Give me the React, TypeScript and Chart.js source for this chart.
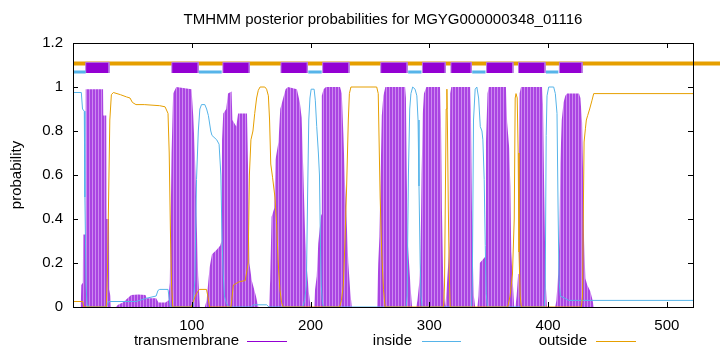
import React, { useEffect, useRef } from "react";
import { Chart, registerables } from "chart.js";

Chart.register(...registerables);

// ---------- data ----------
const titleText = "TMHMM posterior probabilities for MGYG000000348_01116";
const yAxisTitle = "probability";
const legendLabels = ["transmembrane", "inside", "outside"];

const xMin = 0;
const xMax = 522;
const xTicks = [100, 200, 300, 400, 500];
const xTickLabels = ["100", "200", "300", "400", "500"];
const yTicks = [0, 0.2, 0.4, 0.6, 0.8, 1, 1.2];
const yTickLabels = ["0", "0.2", "0.4", "0.6", "0.8", "1", "1.2"];

// posterior probability of transmembrane (residue, value)
const tmProfile: [number, number][] = [
  [0, 0], [6.5, 0], [7, 0.1], [8.3, 0.11], [8.5, 0.33], [10.5, 0.33], [10.7, 0.99], [25.3, 0.99],
  [25.5, 0.87], [28, 0.87], [28.2, 0.4], [30.3, 0.4], [30.5, 0.08], [31.5, 0.05], [32, 0],
  [36, 0], [38, 0.01], [42, 0.02], [46, 0.04], [49, 0.055], [55, 0.057], [61, 0.055], [62, 0.04],
  [70, 0.04], [72, 0.02], [78, 0.02], [80, 0.03],
  [80.5, 0.05], [81.5, 0.11], [83, 0.7], [84.3, 0.97], [87, 1.0], [99.8, 0.99], [101.2, 0.87],
  [102.6, 0.7], [104, 0.41], [105.4, 0.14], [106.8, 0],
  [111, 0], [112.5, 0.03], [115, 0.18], [117, 0.24], [121, 0.26], [124, 0.28], [125, 0.3],
  [125.5, 0.76], [126.5, 0.88], [129, 0.9], [130.5, 0.97], [133.5, 0.98], [134.2, 0.85],
  [137.5, 0.82], [139, 0.88], [146.5, 0.88], [147.5, 0.6], [148.5, 0.2], [150.5, 0.12],
  [154, 0.05], [156, 0],
  [165, 0], [166, 0.12], [167.2, 0.41], [169.5, 0.45], [170.5, 0.67], [173, 0.75], [174.5, 0.9],
  [177, 0.95], [179, 0.99], [181, 1.0], [188.5, 0.99], [191, 0.93], [192.5, 0.86], [194, 0.6],
  [195.3, 0.35], [196.8, 0.18], [198.5, 0.07], [200, 0],
  [203, 0], [203.8, 0.08], [205.2, 0.14], [206.5, 0.29], [208, 0.37], [209, 0.42], [209.5, 0.96],
  [211, 0.99], [213, 1.0], [224.8, 1.0], [226.3, 0.97], [227.6, 0.79], [229, 0.56], [230.5, 0.38],
  [231.8, 0.2], [233.3, 0.08], [234.7, 0],
  [256, 0], [257, 0.2], [258, 0.32], [259, 0.6], [260, 0.87], [261.3, 0.96], [263, 1.0],
  [279.6, 1.0], [280.3, 0.95], [281, 0.6], [281.8, 0.3], [283.5, 0.15], [285, 0.03], [285.5, 0],
  [289, 0], [290, 0.03], [291.5, 0.11], [292.5, 0.2], [293.5, 0.6], [294.5, 0.88], [295.5, 0.97],
  [297.5, 1.0], [309, 1.0], [309.8, 0.85], [310.6, 0.45], [311.6, 0.15], [312.8, 0.03], [313.5, 0],
  [314, 0], [314.8, 0.1], [316.2, 0.22], [317, 0.3], [317.6, 0.97], [318.5, 1.0], [334.4, 1.0],
  [335, 0.9], [335.9, 0.44], [336.7, 0.2], [337.5, 0.05], [338.6, 0],
  [340.5, 0], [341.4, 0.05], [342.5, 0.2], [347.2, 0.23], [347.7, 0.75], [349, 0.97], [350, 1.0],
  [364.5, 1.0], [365.5, 0.84], [367.3, 0.72], [368.2, 0.55], [369, 0.25], [370.4, 0.1], [371.5, 0],
  [372.5, 0], [373.5, 0.05], [374.8, 0.15], [375.5, 0.6], [376, 0.97], [377.2, 1.0], [394.9, 1.0],
  [395.7, 0.92], [396.8, 0.5], [397.9, 0.12], [399, 0],
  [406, 0], [407, 0.03], [408.5, 0.15], [409.5, 0.3], [410.3, 0.65], [411.5, 0.85], [413, 0.93],
  [414.5, 0.96], [416, 0.97], [426, 0.97], [427.2, 0.95], [428.6, 0.84], [429.5, 0.6], [430.3, 0.3],
  [431.4, 0.13], [433, 0.1], [435.6, 0.07], [437.5, 0.03], [438.4, 0], [522, 0],
];

// posterior probability of inside
const insideProfile: [number, number][] = [
  [0, 0.975], [7, 0.975], [8, 0.9], [9.5, 0.89], [10, 0.5], [11, 0.1], [11.8, 0.01], [12.5, 0],
  [28, 0], [30, 0.025], [53, 0.025], [62, 0.04], [70, 0.05], [71.5, 0.075], [73, 0.08], [80, 0.08],
  [81, 0.04], [82, 0],
  [101, 0], [102.6, 0.12], [104, 0.58], [105.5, 0.8], [106.8, 0.9], [108.2, 0.92], [111, 0.92],
  [112.5, 0.9], [114, 0.87], [116, 0.8], [117, 0.78], [121, 0.76], [123, 0.74], [124.5, 0.6],
  [125.5, 0.3], [126.5, 0.15], [127.5, 0.05], [129, 0.02], [131, 0],
  [150, 0], [152, 0.01], [163, 0.01], [165, 0],
  [193.5, 0], [195, 0.03], [196.5, 0.1], [197.5, 0.5], [198.5, 0.85], [199.5, 0.95], [200.5, 0.99],
  [203, 0.99], [204, 0.94], [205.2, 0.82], [206.6, 0.7], [207.5, 0.6], [208.3, 0.3], [209, 0.1],
  [210, 0.02], [211, 0],
  [280.5, 0], [281.3, 0.05], [282.4, 0.6], [283.5, 0.9], [284.5, 0.97], [286, 1.0], [288, 0.99],
  [289.5, 0.96], [290.5, 0.85], [291.3, 0.55], [292.3, 0.2], [293, 0.05], [294, 0],
  [335.5, 0], [336.2, 0.1], [337.2, 0.85], [338.6, 0.99], [340, 1.0], [341.5, 0.95], [342.9, 0.82],
  [344.3, 0.8], [345.1, 0.76], [346.2, 0.58], [347.1, 0.28], [347.9, 0.06], [349, 0],
  [396.8, 0], [397.6, 0.1], [398.4, 0.78], [399.1, 0.96], [400.5, 1.0], [404.7, 1.0], [406.1, 0.97],
  [407.5, 0.88], [408.4, 0.45], [409.2, 0.12], [410.3, 0.05], [414, 0.04], [417.4, 0.03], [522, 0.03],
];

// posterior probability of outside
const outsideProfile: [number, number][] = [
  [0, 0.025], [8.3, 0.025], [9, 0], [28, 0], [29, 0.15], [30, 0.5], [31, 0.85], [32.3, 0.965],
  [34, 0.975], [40, 0.965], [45, 0.955], [48, 0.95], [50, 0.93], [53, 0.92], [60, 0.92],
  [73, 0.915], [77.5, 0.91], [80, 0.88], [81, 0.7], [82, 0.35], [83, 0.1], [84, 0],
  [99.5, 0], [101, 0.02], [103, 0.05], [105, 0.07], [106.5, 0.08], [112.4, 0.08], [113.5, 0.05],
  [115, 0],
  [133, 0], [134, 0.05], [135, 0.1], [140, 0.115], [145, 0.12], [147.5, 0.2], [148.5, 0.6],
  [149.8, 0.76], [151.5, 0.8], [153, 0.88], [154.6, 0.95], [156, 0.985], [157.5, 1.0], [161.5, 1.0],
  [163, 0.99], [164.5, 0.96], [165.5, 0.85], [166.5, 0.65], [168, 0.59], [170, 0.5], [171.4, 0.38],
  [172.8, 0.2], [174.2, 0.08], [175.6, 0.02], [177, 0],
  [224.5, 0], [226, 0.03], [227.6, 0.1], [229, 0.3], [230.4, 0.55], [231.8, 0.85], [232.7, 0.97],
  [234, 1.0], [255.7, 1.0], [257, 0.97], [257.9, 0.7], [258.6, 0.5], [259.9, 0.25], [261.4, 0.08],
  [262.8, 0],
  [312, 0], [312.8, 0.1], [313.5, 0.5], [314.2, 0.9], [314.8, 0.99], [315.3, 0.8], [316, 0.45],
  [316.8, 0.15], [317.6, 0],
  [366, 0], [368, 0.05], [370, 0.15], [371.5, 0.4], [372.3, 0.95], [373, 0.97], [374, 0.95],
  [374.8, 0.7], [375.5, 0.25], [376.5, 0.05], [377.5, 0],
  [428, 0], [429, 0.05], [429.6, 0.4], [430.3, 0.75], [431.4, 0.81], [432.2, 0.85], [433.3, 0.87],
  [435, 0.9], [437, 0.94], [438.4, 0.97], [522, 0.97],
];

// predicted topology (residue ranges)
const tmSegments: [number, number][] = [
  [10.7, 30.3], [83.2, 105.4], [126.2, 148.4], [175.1, 197.3], [210.2, 232.4], [259.1, 281.3],
  [294.2, 313.4], [318.2, 335.3], [348.2, 370.4], [375.1, 397.4], [409.5, 428.6],
];
const insideSegments: [number, number][] = [
  [0, 10.7], [106, 125.2], [198.1, 209.4], [282.2, 293.4], [336.1, 347.3], [398.2, 408.6],
];
const outsideBarRange: [number, number] = [0, 548];
const tmBoxLevels: [number, number] = [1.0636, 1.112];
const insideBarLevel = 1.068;
const outsideBarLevel = 1.107;

// ---------- styles ----------
const FONT = "'Liberation Sans', Arial, sans-serif";
const PURPLE = "#9400d3";
const BLUE = "#56b4e9";
const ORANGE = "#e69f00";

const pts = (a: [number, number][]) => a.map(([x, y]) => ({ x, y }));

export default function App() {
  const ref = useRef<HTMLCanvasElement | null>(null);

  useEffect(() => {
    const canvas = ref.current;
    if (!canvas) return;

    // striped fill imitating gnuplot impulses
    const pc = document.createElement("canvas");
    pc.width = 3;
    pc.height = 1;
    const pctx = pc.getContext("2d")!;
    pctx.fillStyle = "#aa44e2";
    pctx.fillRect(0, 0, 2, 1);
    pctx.fillStyle = "#cd88f0";
    pctx.fillRect(2, 0, 1, 1);
    const ctx0 = canvas.getContext("2d")!;
    const stripe = ctx0.createPattern(pc, "repeat") || "#b050e0";

    const boxDatasets = tmSegments.map(([s, e]) => ({
      data: [
        { x: s, y: tmBoxLevels[0] },
        { x: s, y: tmBoxLevels[1] },
        { x: e, y: tmBoxLevels[1] },
        { x: e, y: tmBoxLevels[0] },
      ],
      borderColor: "#b877e4",
      borderWidth: 1,
      backgroundColor: PURPLE,
      fill: { value: tmBoxLevels[0] },
      pointRadius: 0,
      order: 10,
    }));

    const insideBarData: { x: number; y: number | null }[] = [];
    insideSegments.forEach(([s, e]) => {
      insideBarData.push({ x: s, y: insideBarLevel }, { x: e, y: insideBarLevel }, { x: e, y: null });
    });

    const framePlugin = {
      id: "frame",
      afterDatasetsDraw(chart: any) {
        const { ctx, chartArea } = chart;
        const { left, right, top, bottom } = chartArea;
        const xs = chart.scales.x;
        const ys = chart.scales.y;
        ctx.save();
        ctx.strokeStyle = "#000";
        ctx.lineWidth = 1;
        ctx.beginPath();
        yTicks.forEach((v) => {
          const py = Math.round(ys.getPixelForValue(v)) + 0.5;
          ctx.moveTo(left, py);
          ctx.lineTo(left + 5, py);
          ctx.moveTo(right, py);
          ctx.lineTo(right - 5, py);
        });
        xTicks.forEach((v) => {
          const px = Math.round(xs.getPixelForValue(v)) + 0.5;
          ctx.moveTo(px, bottom);
          ctx.lineTo(px, bottom - 5);
          ctx.moveTo(px, top);
          ctx.lineTo(px, top + 5);
        });
        ctx.stroke();
        ctx.strokeRect(Math.round(left) + 0.5, Math.round(top) + 0.5, Math.round(right - left), Math.round(bottom - top));
        ctx.restore();
      },
      afterDraw(chart: any) {
        const { ctx, chartArea } = chart;
        ctx.save();
        ctx.font = `15px ${FONT}`;
        ctx.fillStyle = "#000";
        ctx.textBaseline = "middle";
        // title, centred over the plot area
        ctx.textAlign = "center";
        ctx.fillText(titleText, (chartArea.left + chartArea.right) / 2, 20);
        // legend
        const items = [
          { label: legendLabels[0], color: PURPLE, textRight: 239, x0: 247, x1: 287 },
          { label: legendLabels[1], color: BLUE, textRight: 412, x0: 422, x1: 461 },
          { label: legendLabels[2], color: ORANGE, textRight: 587, x0: 596, x1: 636 },
        ];
        const y = 341;
        ctx.textAlign = "right";
        items.forEach((it) => {
          ctx.fillText(it.label, it.textRight, y);
          ctx.strokeStyle = it.color;
          ctx.lineWidth = 1;
          ctx.beginPath();
          ctx.moveTo(it.x0, y + 0.5);
          ctx.lineTo(it.x1, y + 0.5);
          ctx.stroke();
        });
        ctx.restore();
      },
    };

    const chart = new Chart(canvas, {
      type: "line",
      data: {
        datasets: [
          {
            data: pts(tmProfile),
            borderWidth: 0,
            borderColor: "rgba(0,0,0,0)",
            backgroundColor: stripe as any,
            fill: "origin",
            pointRadius: 0,
            order: 50,
          },
          {
            data: pts(insideProfile),
            borderColor: BLUE,
            borderWidth: 1,
            fill: false,
            pointRadius: 0,
            order: 40,
          },
          {
            data: pts(outsideProfile),
            borderColor: ORANGE,
            borderWidth: 1,
            fill: false,
            pointRadius: 0,
            order: 30,
          },
          {
            data: [
              { x: outsideBarRange[0], y: outsideBarLevel },
              { x: outsideBarRange[1], y: outsideBarLevel },
            ],
            borderColor: ORANGE,
            borderWidth: 4,
            borderCapStyle: "butt",
            fill: false,
            pointRadius: 0,
            clip: false as any,
            order: 20,
          },
          ...boxDatasets,
          {
            data: insideBarData as any,
            borderColor: BLUE,
            borderWidth: 3,
            borderCapStyle: "butt",
            spanGaps: false,
            fill: false,
            pointRadius: 0,
            order: 5,
          },
        ] as any,
      },
      options: {
        animation: false,
        responsive: false,
        devicePixelRatio: 1,
        events: [],
        layout: { padding: { left: 0, right: 27, top: 43, bottom: 0 } },
        plugins: {
          legend: { display: false },
          tooltip: { enabled: false },
          title: { display: false },
        },
        scales: {
          x: {
            type: "linear",
            min: xMin,
            max: xMax,
            grid: { display: false },
            border: { display: false },
            afterBuildTicks: (s: any) => {
              s.ticks = xTicks.map((v) => ({ value: v }));
            },
            afterFit: (s: any) => {
              s.height = 45;
            },
            ticks: {
              autoSkip: false,
              maxRotation: 0,
              color: "#000",
              padding: 2,
              font: { family: FONT, size: 15 },
              callback: (_v: any, i: number) => xTickLabels[i],
            },
          },
          y: {
            type: "linear",
            min: 0,
            max: 1.2,
            grid: { display: false },
            border: { display: false },
            afterBuildTicks: (s: any) => {
              s.ticks = yTicks.map((v) => ({ value: v }));
            },
            afterFit: (s: any) => {
              s.width = 73;
            },
            ticks: {
              color: "#000",
              padding: 2,
              font: { family: FONT, size: 15 },
              callback: (_v: any, i: number) => yTickLabels[i],
            },
            title: {
              display: true,
              text: yAxisTitle,
              color: "#000",
              font: { family: FONT, size: 15 },
              padding: { top: 8, bottom: 0 },
            },
          },
        },
      },
      plugins: [framePlugin],
    });

    return () => chart.destroy();
  }, []);

  return (
    <div style={{ position: "absolute", left: 0, top: 0, width: 720, height: 352, background: "#fff" }}>
      <canvas ref={ref} width={720} height={352} style={{ display: "block", width: 720, height: 352 }} />
    </div>
  );
}
